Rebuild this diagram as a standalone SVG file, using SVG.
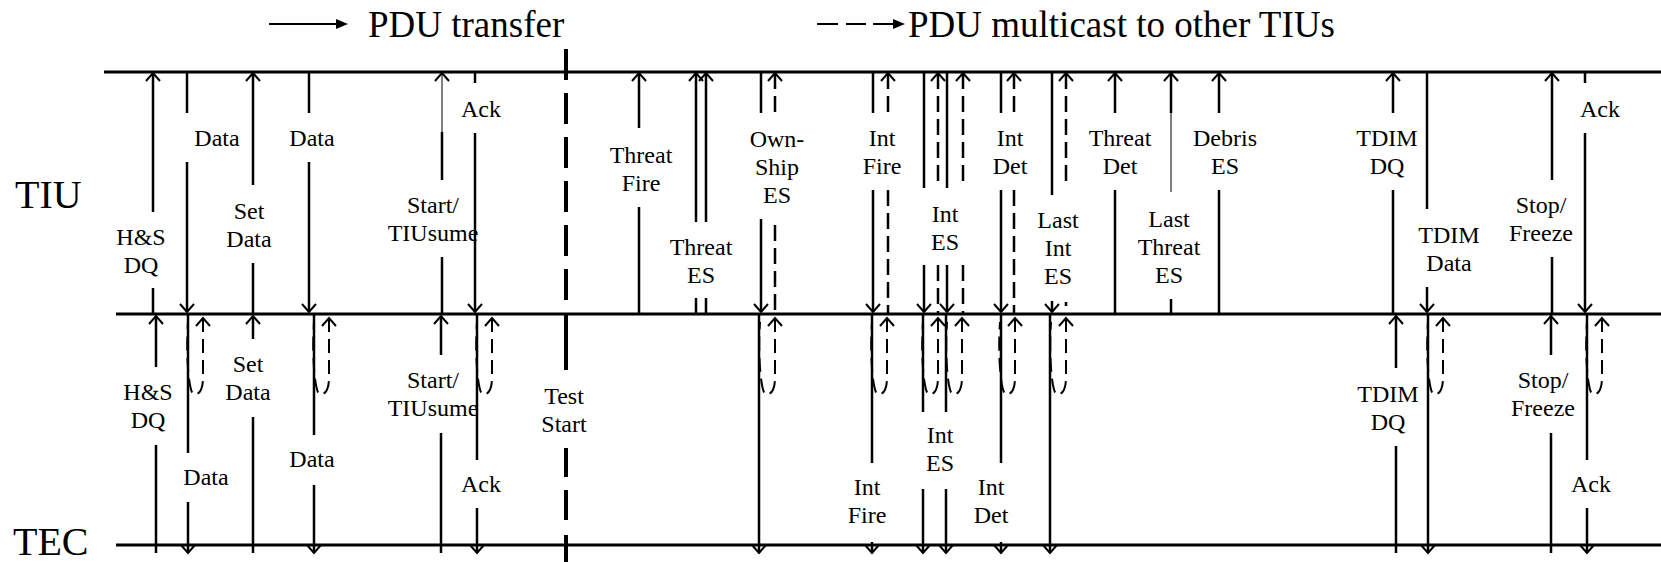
<svg xmlns="http://www.w3.org/2000/svg" width="1661" height="562" viewBox="0 0 1661 562">
  <defs>
    <style>
      text { font-family: "Liberation Serif", "Times New Roman", serif; fill: #000; }
      .lbl { font-size: 24px; text-anchor: middle; }
      .big { font-size: 40px; }
      .leg { font-size: 37px; }
      .rail { stroke: #000; stroke-width: 3; fill: none; }
      .s { stroke: #000; stroke-width: 2.5; fill: none; }
      .t { stroke: #000; stroke-width: 1; fill: none; }
      .d { stroke: #000; stroke-width: 2.5; fill: none; stroke-dasharray: 16 7; }
      .u { stroke: #000; stroke-width: 2; fill: none; stroke-dasharray: 14 7; }
      .e { marker-end: url(#ah); }
      .b { marker-start: url(#ahs); }
      .ts { stroke: #000; stroke-width: 4; fill: none; }
    </style>
    <marker id="ah" markerUnits="userSpaceOnUse" markerWidth="24" markerHeight="24" viewBox="-12 -12 24 24" refX="0" refY="0" orient="auto" overflow="visible">
      <path d="M-8,-7 L0,0 L-8,7" fill="none" stroke="#000" stroke-width="2"/>
    </marker>
    <marker id="ahs" markerUnits="userSpaceOnUse" markerWidth="24" markerHeight="24" viewBox="-12 -12 24 24" refX="0" refY="0" orient="auto-start-reverse" overflow="visible">
      <path d="M-8,-7 L0,0 L-8,7" fill="none" stroke="#000" stroke-width="2"/>
    </marker>
  </defs>

  <!-- legend -->
  <g id="legend">
    <path d="M269 24H340" stroke="#000" stroke-width="2"/>
    <path d="M336 19L348 24L336 29Z" fill="#000"/>
    <text class="leg" x="368" y="37">PDU transfer</text>
    <path d="M817 24H838M846 24H866M873 24H896" stroke="#000" stroke-width="2"/>
    <path d="M893 19L905 24L893 29Z" fill="#000"/>
    <text class="leg" x="908" y="37">PDU multicast to other TIUs</text>
  </g>

  <!-- lifelines -->
  <g id="lifelines">
    <path class="rail" d="M104 72H1661"/>
    <path class="rail" d="M116 314H1661"/>
    <path class="rail" d="M116 545H1661"/>
  </g>
  <g id="tiu"><text class="big" x="15" y="208">TIU</text></g>
  <g id="tec"><text class="big" x="13" y="555">TEC</text></g>

  <!-- test start marker -->
  <g id="test-start">
    <path class="ts" d="M566 49V300" stroke-dasharray="31 13"/>
    <path class="ts" d="M566 313V370M566 448V477M566 490V520M566 535V562"/>
    <text class="lbl" x="564" y="404">Test</text>
    <text class="lbl" x="564" y="432">Start</text>
  </g>

  <!-- PDU connectors -->
  <g id="connectors">
    <!-- TIU section (upper) -->
    <path class="s b" d="M153 73V212M153 288V314"/>
    <path class="s" d="M187 72V113"/><path class="s e" d="M187 162V312"/>
    <path class="s b" d="M253 73V185M253 263V314"/>
    <path class="s" d="M309 72V113"/><path class="s e" d="M309 162V312"/>
    <path class="t b" d="M442 73V132"/><path class="s" d="M442 132V180M442 257V314"/>
    <path class="s" d="M475 72V83"/><path class="s e" d="M475 133V312"/>
    <path class="s b" d="M639 73V128M639 207V314"/>
    <path class="s b" d="M696 73V222M696 298V314"/>
    <path class="s b" d="M706 73V222M706 298V314"/>
    <path class="s" d="M761 72V113"/><path class="s e" d="M761 219V312"/>
    <path class="d b" d="M775 73V113"/><path class="d" d="M775 225V314"/>
    <path class="s" d="M873 72V113"/><path class="s e" d="M873 190V312"/>
    <path class="d b" d="M888 73V113"/><path class="d" d="M888 190V314"/>
    <path class="s" d="M924 72V188"/><path class="s e" d="M924 265V312"/>
    <path class="d b" d="M938 73V188"/><path class="d" d="M938 265V314"/>
    <path class="s" d="M947 72V188"/><path class="s e" d="M947 265V312"/>
    <path class="d b" d="M963 73V188"/><path class="d" d="M963 265V314"/>
    <path class="s" d="M1001 72V113"/><path class="s e" d="M1001 190V312"/>
    <path class="d b" d="M1014 73V113"/><path class="d" d="M1014 190V314"/>
    <path class="s" d="M1052 72V195"/><path class="s e" d="M1052 301V312"/>
    <path class="d b" d="M1066 73V185"/><path class="s" d="M1066 302V306"/>
    <path class="s b" d="M1115 73V113M1115 190V314"/>
    <path class="s b" d="M1171 73V113"/><path class="t" d="M1171 113V192"/><path class="s" d="M1171 299V314"/>
    <path class="s b" d="M1219 73V113M1219 190V314"/>
    <path class="s b" d="M1393 73V113M1393 190V314"/>
    <path class="s" d="M1427 72V209"/><path class="s e" d="M1427 287V312"/>
    <path class="s b" d="M1552 73V180M1552 257V314"/>
    <path class="s" d="M1585 72V83"/><path class="s e" d="M1585 133V312"/>

    <!-- TEC section (lower) -->
    <path class="s b" d="M156 316V367M156 445V553"/>
    <path class="s" d="M188 314V453"/><path class="s e" d="M188 502V553"/>
    <path class="s b" d="M253 316V339M253 417V553"/>
    <path class="s" d="M314 314V435"/><path class="s e" d="M314 485V553"/>
    <path class="s b" d="M441 316V355M441 433V553"/>
    <path class="s" d="M477 314V460"/><path class="s e" d="M477 508V553"/>
    <path class="s e" d="M759 314V553"/>
    <path class="s" d="M872 314V463"/><path class="s e" d="M872 542V553"/>
    <path class="s" d="M923 314V412"/><path class="s e" d="M923 489V553"/>
    <path class="s" d="M946 314V412"/><path class="s e" d="M946 489V553"/>
    <path class="s" d="M1001 314V463"/><path class="s e" d="M1001 542V553"/>
    <path class="s e" d="M1050 314V553"/>
    <path class="s b" d="M1396 316V368M1396 446V553"/>
    <path class="s e" d="M1428 314V553"/>
    <path class="s b" d="M1551 316V355M1551 433V553"/>
    <path class="s" d="M1587 314V460"/><path class="s e" d="M1587 508V553"/>

    <!-- multicast echoes back to the TIUs -->
    <path class="u b" d="M203 318V378C203 392 197 396 193 394C188 388 186 350 188 322"/>
    <path class="u b" d="M329 318V378C329 392 323 396 319 394C314 388 312 350 314 322"/>
    <path class="u b" d="M492 318V378C492 392 486 396 482 394C477 388 475 350 477 322"/>
    <path class="u b" d="M775 318V378C775 392 769 396 765 394C760 388 758 350 760 322"/>
    <path class="u b" d="M887 318V378C887 392 881 396 877 394C872 388 870 350 872 322"/>
    <path class="u b" d="M938 318V378C938 392 932 396 928 394C923 388 921 350 923 322"/>
    <path class="u b" d="M962 318V378C962 392 956 396 952 394C947 388 945 350 947 322"/>
    <path class="u b" d="M1015 318V378C1015 392 1009 396 1005 394C1000 388 998 350 1000 322"/>
    <path class="u b" d="M1066 318V378C1066 392 1060 396 1056 394C1051 388 1049 350 1051 322"/>
    <path class="u b" d="M1443 318V378C1443 392 1437 396 1433 394C1428 388 1426 350 1428 322"/>
    <path class="u b" d="M1602 318V378C1602 392 1596 396 1592 394C1587 388 1585 350 1587 322"/>
  </g>

  <!-- PDU labels, TIU section -->
  <g id="hs-dq-tiu"><text class="lbl" x="141" y="245">H&amp;S</text><text class="lbl" x="141" y="273">DQ</text></g>
  <g id="data-1-tiu"><text class="lbl" x="217" y="146">Data</text></g>
  <g id="set-data-tiu"><text class="lbl" x="249" y="219">Set</text><text class="lbl" x="249" y="247">Data</text></g>
  <g id="data-2-tiu"><text class="lbl" x="312" y="146">Data</text></g>
  <g id="start-tiu"><text class="lbl" x="433" y="213">Start/</text><text class="lbl" x="433" y="241">TIUsume</text></g>
  <g id="ack-1-tiu"><text class="lbl" x="481" y="117">Ack</text></g>
  <g id="threat-fire"><text class="lbl" x="641" y="163">Threat</text><text class="lbl" x="641" y="191">Fire</text></g>
  <g id="threat-es"><text class="lbl" x="701" y="255">Threat</text><text class="lbl" x="701" y="283">ES</text></g>
  <g id="ownship-es"><text class="lbl" x="777" y="147">Own-</text><text class="lbl" x="777" y="175">Ship</text><text class="lbl" x="777" y="203">ES</text></g>
  <g id="int-fire-tiu"><text class="lbl" x="882" y="146">Int</text><text class="lbl" x="882" y="174">Fire</text></g>
  <g id="int-es-tiu"><text class="lbl" x="945" y="222">Int</text><text class="lbl" x="945" y="250">ES</text></g>
  <g id="int-det-tiu"><text class="lbl" x="1010" y="146">Int</text><text class="lbl" x="1010" y="174">Det</text></g>
  <g id="last-int-es"><text class="lbl" x="1058" y="228">Last</text><text class="lbl" x="1058" y="256">Int</text><text class="lbl" x="1058" y="284">ES</text></g>
  <g id="threat-det"><text class="lbl" x="1120" y="146">Threat</text><text class="lbl" x="1120" y="174">Det</text></g>
  <g id="last-threat-es"><text class="lbl" x="1169" y="227">Last</text><text class="lbl" x="1169" y="255">Threat</text><text class="lbl" x="1169" y="283">ES</text></g>
  <g id="debris-es"><text class="lbl" x="1225" y="146">Debris</text><text class="lbl" x="1225" y="174">ES</text></g>
  <g id="tdim-dq-tiu"><text class="lbl" x="1387" y="146">TDIM</text><text class="lbl" x="1387" y="174">DQ</text></g>
  <g id="tdim-data-tiu"><text class="lbl" x="1449" y="243">TDIM</text><text class="lbl" x="1449" y="271">Data</text></g>
  <g id="stop-tiu"><text class="lbl" x="1541" y="213">Stop/</text><text class="lbl" x="1541" y="241">Freeze</text></g>
  <g id="ack-2-tiu"><text class="lbl" x="1600" y="117">Ack</text></g>

  <!-- PDU labels, TEC section -->
  <g id="hs-dq-tec"><text class="lbl" x="148" y="400">H&amp;S</text><text class="lbl" x="148" y="428">DQ</text></g>
  <g id="data-1-tec"><text class="lbl" x="206" y="485">Data</text></g>
  <g id="set-data-tec"><text class="lbl" x="248" y="372">Set</text><text class="lbl" x="248" y="400">Data</text></g>
  <g id="data-2-tec"><text class="lbl" x="312" y="467">Data</text></g>
  <g id="start-tec"><text class="lbl" x="433" y="388">Start/</text><text class="lbl" x="433" y="416">TIUsume</text></g>
  <g id="ack-1-tec"><text class="lbl" x="481" y="492">Ack</text></g>
  <g id="int-fire-tec"><text class="lbl" x="867" y="495">Int</text><text class="lbl" x="867" y="523">Fire</text></g>
  <g id="int-es-tec"><text class="lbl" x="940" y="443">Int</text><text class="lbl" x="940" y="471">ES</text></g>
  <g id="int-det-tec"><text class="lbl" x="991" y="495">Int</text><text class="lbl" x="991" y="523">Det</text></g>
  <g id="tdim-dq-tec"><text class="lbl" x="1388" y="402">TDIM</text><text class="lbl" x="1388" y="430">DQ</text></g>
  <g id="stop-tec"><text class="lbl" x="1543" y="388">Stop/</text><text class="lbl" x="1543" y="416">Freeze</text></g>
  <g id="ack-2-tec"><text class="lbl" x="1591" y="492">Ack</text></g>
</svg>
